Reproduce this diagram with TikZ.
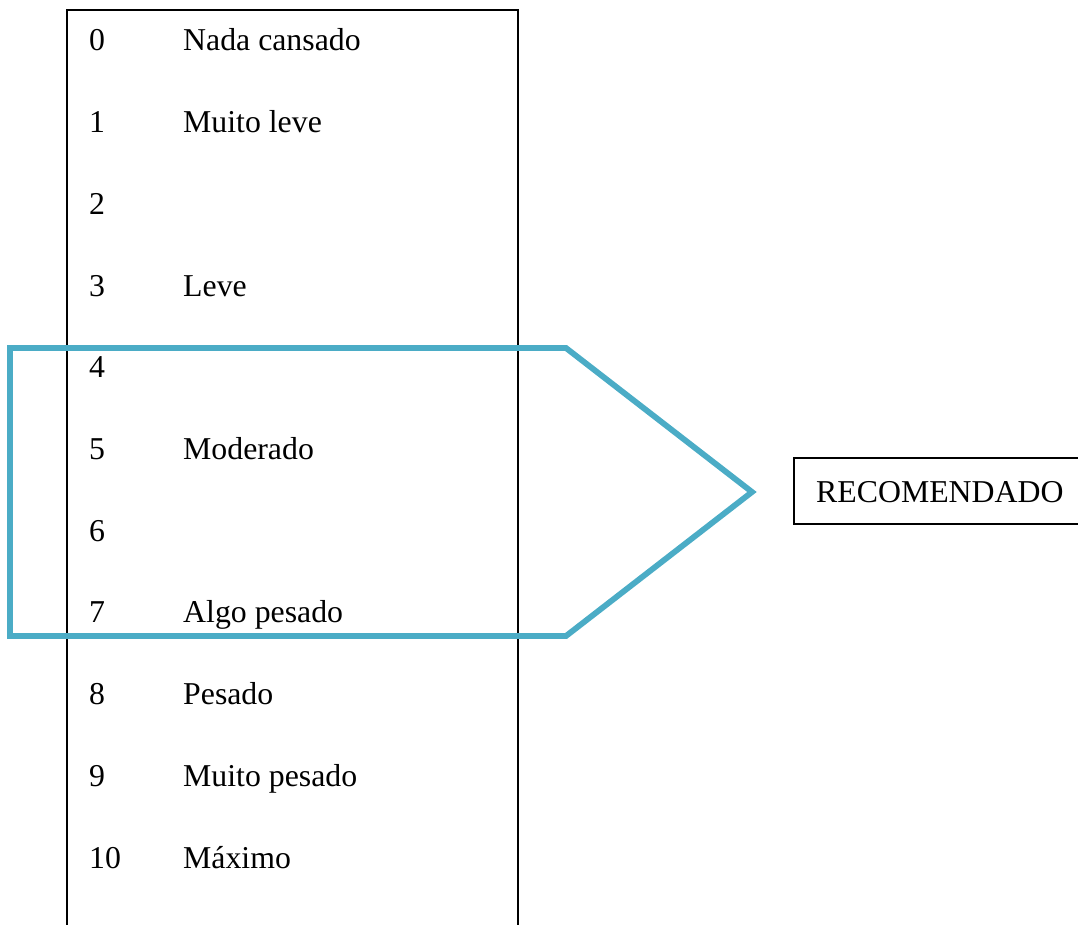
\documentclass[tikz,border=0pt]{standalone}
\usepackage{fontspec}
\setmainfont{Liberation Serif}
\definecolor{accentblue}{HTML}{4BACC6}
\begin{document}
\begin{tikzpicture}[x=1pt,y=-1pt,
  txt/.style={anchor=base west,inner sep=0pt,font=\fontsize{31.8}{36}\selectfont},
  frame/.style={draw=black,line width=1.4pt},
  band/.style={draw=accentblue,line width=5.8pt,line join=miter}]
\useasboundingbox (0,0) rectangle (1078,925);
\begin{scope}
\clip (0,0) rectangle (1078,925);
\draw[frame] (67,940) -- (67,10) -- (518,10) -- (518,940);
\foreach \i/\lab in {0/Nada cansado,1/Muito leve,2/,3/Leve,4/,5/Moderado,6/,7/Algo pesado,8/Pesado,9/Muito pesado,10/Máximo}{
  \node[txt] (n\i) at (89,{51+81.7*\i}) {\i};
  \node[txt] (l\i) at (183,{51+81.7*\i}) {\lab};
}
\draw[band] (10,348) -- (566,348) -- (752,492) -- (566,636) -- (10,636) -- cycle;
\draw[frame] (1090,458) -- (794,458) -- (794,524) -- (1090,524);
\node[txt] (rec) at (816,502) {RECOMENDADO};
\end{scope}
\end{tikzpicture}
\end{document}
